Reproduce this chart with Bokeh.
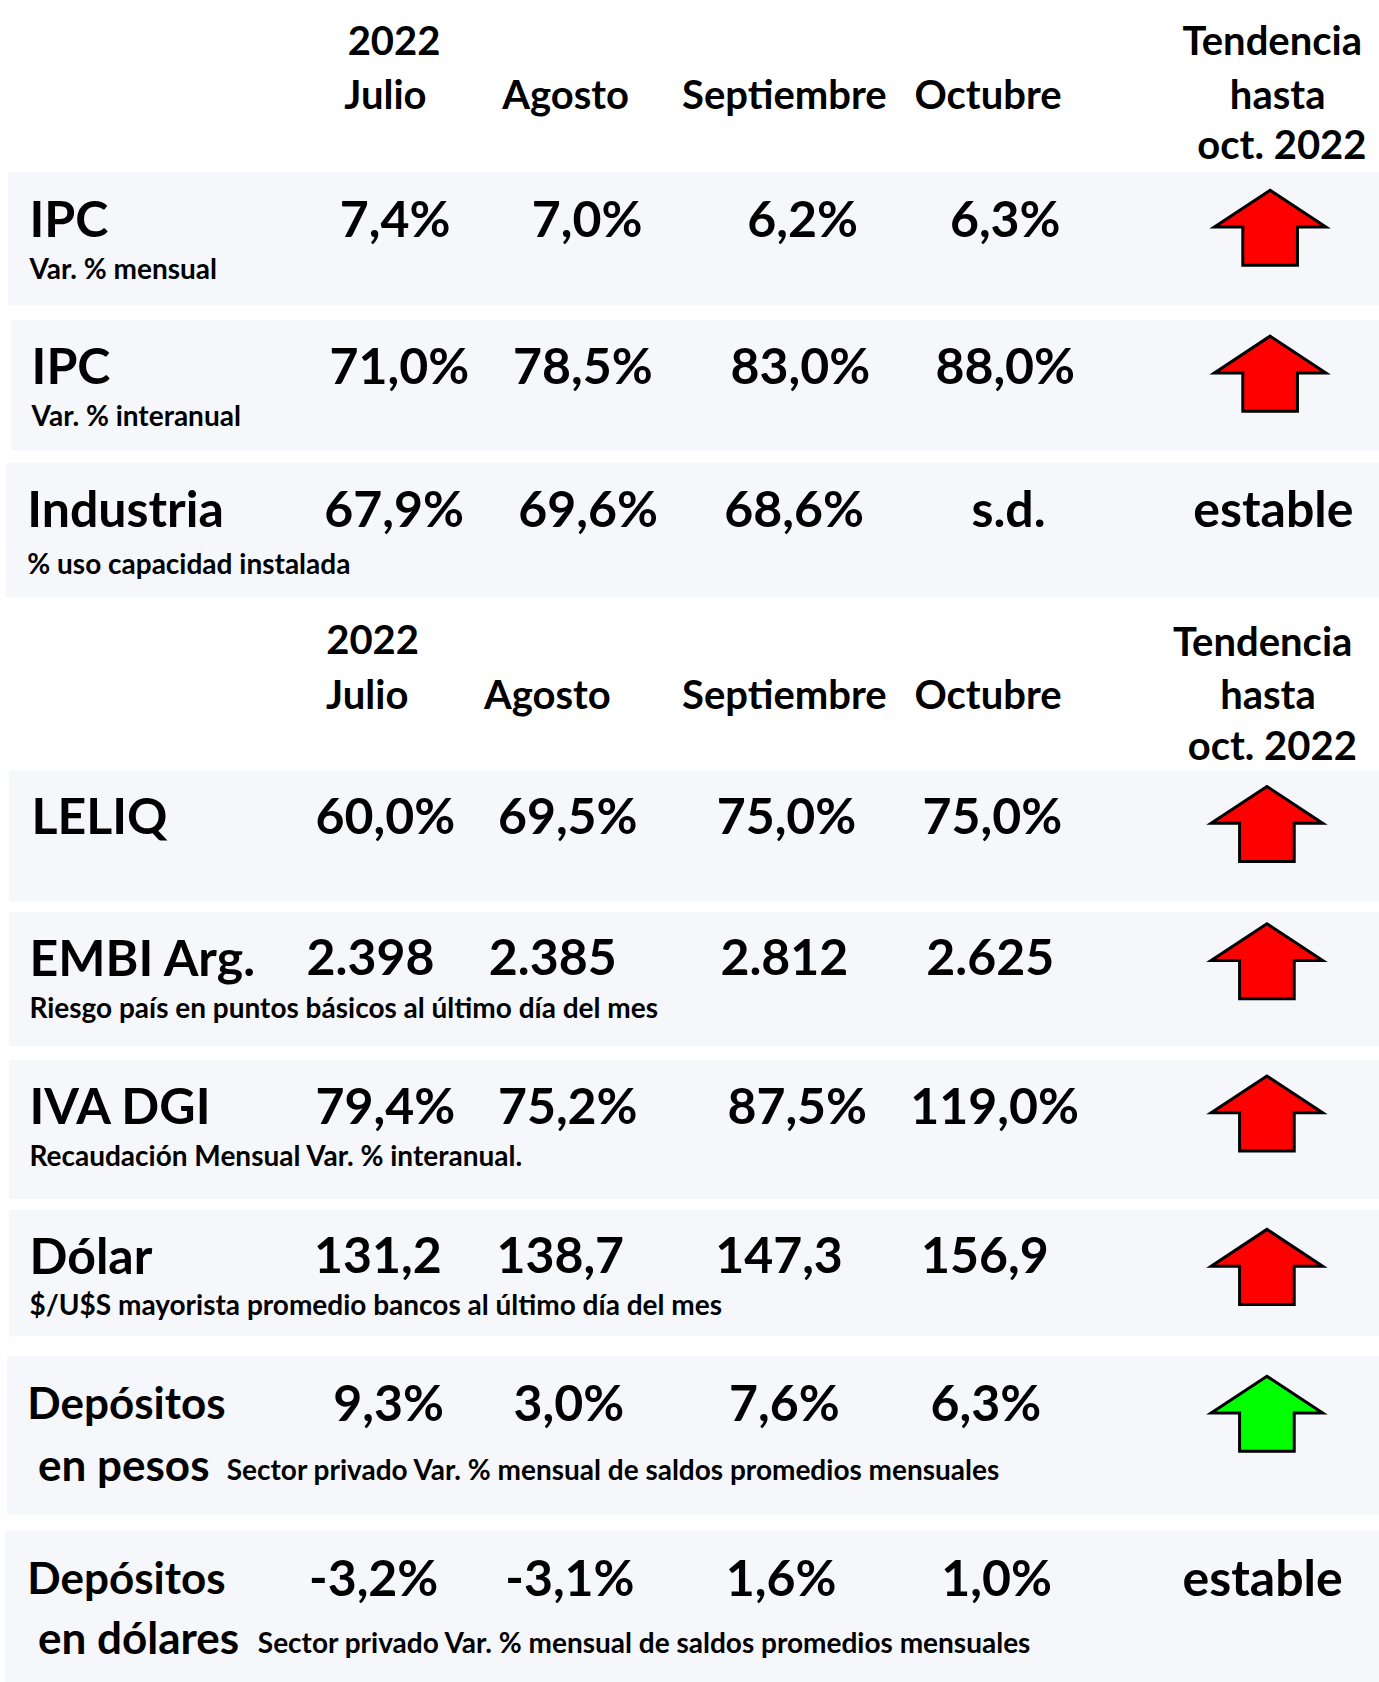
import numpy as np
from bokeh.plotting import figure
from bokeh.models import Range1d, ColumnDataSource
from bokeh.core.properties import value
from bokeh.embed import file_html
from bokeh.resources import INLINE

# ---------------- DATA ----------------
year_label = "2022"
months = ["Julio", "Agosto", "Septiembre", "Octubre"]
trend_header = ["Tendencia", "hasta", "oct. 2022"]

indicators = ["IPC", "IPC", "Industria", "LELIQ", "EMBI Arg.", "IVA DGI", "Dólar", "Depósitos", "Depósitos"]
indicators_line2 = ["", "", "", "", "", "", "", "en pesos", "en dólares"]
subtitles = [
    "Var. % mensual",
    "Var. % interanual",
    "% uso capacidad instalada",
    "",
    "Riesgo país en puntos básicos al último día del mes",
    "Recaudación Mensual Var. % interanual.",
    "$/U$S mayorista promedio bancos al último día del mes",
    "Sector privado Var. % mensual de saldos promedios mensuales",
    "Sector privado Var. % mensual de saldos promedios mensuales",
]
julio = ["7,4%", "71,0%", "67,9%", "60,0%", "2.398", "79,4%", "131,2", "9,3%", "-3,2%"]
agosto = ["7,0%", "78,5%", "69,6%", "69,5%", "2.385", "75,2%", "138,7", "3,0%", "-3,1%"]
septiembre = ["6,2%", "83,0%", "68,6%", "75,0%", "2.812", "87,5%", "147,3", "7,6%", "1,6%"]
octubre = ["6,3%", "88,0%", "s.d.", "75,0%", "2.625", "119,0%", "156,9", "6,3%", "1,0%"]
tendencia = ["sube", "sube", "estable", "sube", "sube", "sube", "sube", "sube", "estable"]
senal = ["mala", "mala", "neutra", "mala", "mala", "mala", "mala", "buena", "neutra"]

# ---------------- LAYOUT (reference px, shrunk scale) ----------------
S = 1379 / 1286
FONT = value("Lato")
BIG = "50px"
LABEL2 = "44px"
HEAD = "40px"
SMALL = "28px"
BG = "#f6f7fb"

panels = [(7, 160, 284), (10, 298, 420), (5, 431, 557), (8, 718, 840), (8, 850, 975),
          (8, 988, 1118), (8, 1128, 1246), (6, 1264, 1412), (4, 1427, 1568)]
header_layout = [
    dict(year=(367, 37), my=87, mx=[359, 527, 731, 921], tx=[1186, 1191, 1195], ty=[37, 87, 134]),
    dict(year=(347, 596), my=647, mx=[342, 510, 731, 921], tx=[1177, 1182, 1186], ty=[597, 647, 694]),
]
label_x = [27, 29, 25, 29, 27, 27, 27, 25, 25]
label_y = [203, 340, 473, 760, 892, 1030, 1170, 1307, 1470]
label_size = [BIG] * 7 + [LABEL2, LABEL2]
line2_x = 35
line2_y = [None] * 7 + [1365, 1526]
sub_x = [27, 29, 25, 0, 27, 27, 27, 211, 240]
sub_y = [249, 387, 525, 0, 939, 1077, 1216, 1369, 1531]
value_x = [
    [368, 547, 748, 937], [372, 543, 746, 937], [367, 548, 740, 940],
    [359, 529, 733, 925], [345, 515, 731, 923], [359, 529, 743, 927],
    [352, 522, 726, 918], [362, 530, 731, 919], [348, 531, 728, 929],
]
trend_x = [1184, 1184, 1187, 1181, 1181, 1181, 1181, 1181, 1177]
arrow_top = [177, 313, None, 733, 861, 1003, 1146, 1283, None]
ARW_W, ARW_H = 104, 70
colors = {"mala": "#ff0000", "buena": "#00ff00"}

W, H = 1379, 1682
p = figure(width=W, height=H, output_backend="svg", toolbar_location=None,
           x_range=Range1d(0, W), y_range=Range1d(H, 0),
           min_border=0, outline_line_color=None)
p.axis.visible = False
p.grid.visible = False
p.background_fill_color = "white"
p.border_fill_color = "white"

# panels
p.quad(left=[a[0] * S for a in panels], right=[1286 * S] * len(panels),
       top=[a[1] * S for a in panels], bottom=[a[2] * S for a in panels],
       fill_color=BG, line_color=None)


def txt(xs, ys, texts, size, align="center"):
    src = ColumnDataSource(dict(x=[x * S for x in xs], y=[y * S for y in ys], t=texts))
    p.text(x="x", y="y", text="t", source=src, text_font=FONT, text_font_style="bold",
           text_font_size=size, text_align=align, text_baseline="middle", text_color="black")


# headers
for hl in header_layout:
    txt([hl["year"][0]], [hl["year"][1]], [year_label], HEAD)
    txt(hl["mx"], [hl["my"]] * 4, months, HEAD)
    txt(hl["tx"], hl["ty"], trend_header, HEAD)

# row labels
for sz in (BIG, LABEL2):
    ri = [i for i in range(len(indicators)) if label_size[i] == sz]
    txt([label_x[i] for i in ri], [label_y[i] for i in ri], [indicators[i] for i in ri], sz, "left")
r2 = [i for i in range(len(indicators)) if indicators_line2[i]]
txt([line2_x] * len(r2), [line2_y[i] for i in r2], [indicators_line2[i] for i in r2], LABEL2, "left")
rs = [i for i in range(len(indicators)) if subtitles[i]]
txt([sub_x[i] for i in rs], [sub_y[i] for i in rs], [subtitles[i] for i in rs], SMALL, "left")

cols = [julio, agosto, septiembre, octubre]
for c in range(4):
    txt([value_x[r][c] for r in range(len(indicators))], label_y, cols[c], BIG)

# trend: estable text
re = [i for i in range(len(tendencia)) if tendencia[i] == "estable"]
txt([trend_x[i] for i in re], [label_y[i] for i in re], [tendencia[i] for i in re], BIG)

# trend arrows
xs, ys, fc = [], [], []
for i, t in enumerate(tendencia):
    if t != "sube":
        continue
    cx, top = trend_x[i] * S, arrow_top[i] * S
    w, h = ARW_W * S, ARW_H * S
    hw, sw, hh = w / 2, w * 0.245, h * 0.49
    xs.append([cx, cx + hw, cx + sw, cx + sw, cx - sw, cx - sw, cx - hw])
    ys.append([top, top + hh, top + hh, top + h, top + h, top + hh, top + hh])
    fc.append(colors[senal[i]])
p.patches(xs=xs, ys=ys, fill_color=fc, line_color="black", line_width=3, line_join="miter")

open("out.html", "w").write(file_html(p, INLINE))
